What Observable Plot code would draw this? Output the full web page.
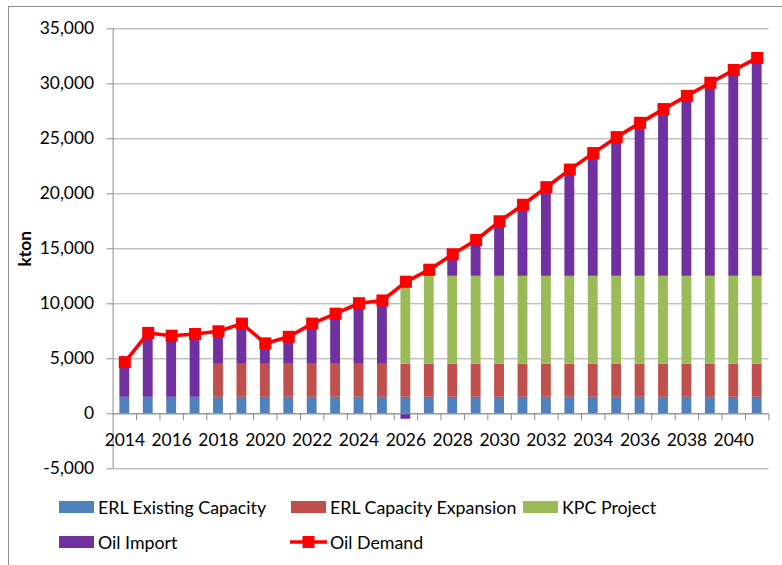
<!DOCTYPE html>
<html>
<head>
<meta charset="utf-8">
<script src="https://cdn.jsdelivr.net/npm/d3@7"></script>
<script src="https://cdn.jsdelivr.net/npm/@observablehq/plot@0.6"></script>
<style>
  html, body { margin: 0; padding: 0; background: #fff; }
  #wrap { position: relative; width: 782px; height: 565px; overflow: hidden; font-family: Lato, "Liberation Sans", sans-serif; }
  #frame { position: absolute; left: 8px; top: 6px; width: 900px; height: 700px; border: 1px solid #8f8f8f; pointer-events: none; }
  #legend { position: relative; height: 85px; }
  #legend .grid { position: absolute; left: 59px; top: 15px; display: grid; grid-template-columns: 232px 232px 232px; grid-auto-rows: 35px; }
  #legend .item { display: flex; align-items: center; height: 24px; font-size: 17.8px; color: #000; white-space: nowrap; }
  #legend .sw { width: 35px; height: 12px; margin-right: 4px; flex: none; }
  #legend svg.ls { margin-left: -1px; margin-right: 3px; flex: none; }
</style>
</head>
<body>
<div id="wrap">
  <div id="chart"></div>
  <div id="legend"><div class="grid"></div></div>
  <div id="frame"></div>
</div>
<script>
// ---- data ----
const years = [2014, 2015, 2016, 2017, 2018, 2019, 2020, 2021, 2022, 2023, 2024, 2025, 2026, 2027,
               2028, 2029, 2030, 2031, 2032, 2033, 2034, 2035, 2036, 2037, 2038, 2039, 2040, 2041];
const erlExisting  = [1500, 1500, 1500, 1500, 1500, 1500, 1500, 1500, 1500, 1500, 1500, 1500, 1500, 1500,
                      1500, 1500, 1500, 1500, 1500, 1500, 1500, 1500, 1500, 1500, 1500, 1500, 1500, 1500];
const erlExpansion = [0, 0, 0, 0, 3000, 3000, 3000, 3000, 3000, 3000, 3000, 3000, 3000, 3000,
                      3000, 3000, 3000, 3000, 3000, 3000, 3000, 3000, 3000, 3000, 3000, 3000, 3000, 3000];
const kpcProject   = [0, 0, 0, 0, 0, 0, 0, 0, 0, 0, 0, 0, 8000, 8000,
                      8000, 8000, 8000, 8000, 8000, 8000, 8000, 8000, 8000, 8000, 8000, 8000, 8000, 8000];
const oilImport    = [3200, 5850, 5600, 5750, 3000, 3700, 1900, 2500, 3700, 4600, 5550, 5800, -500, 600,
                      2000, 3300, 5000, 6500, 8100, 9700, 11200, 12650, 13950, 15200, 16400, 17600, 18750, 19850];
const oilDemand    = [4700, 7350, 7100, 7250, 7500, 8200, 6400, 7000, 8200, 9100, 10050, 10300, 12000, 13100,
                      14500, 15800, 17500, 19000, 20600, 22200, 23700, 25150, 26450, 27700, 28900, 30100, 31250, 32350];
const seriesNames  = ["ERL Existing Capacity", "ERL Capacity Expansion", "KPC Project", "Oil Import"];
const seriesColors = ["#4f81bd", "#c0504d", "#9bbb59", "#7030a0"];
const demandName   = "Oil Demand";
const demandColor  = "#ff0000";
const yTicks       = [-5000, 0, 5000, 10000, 15000, 20000, 25000, 30000, 35000];
const xLabelYears  = [2014, 2016, 2018, 2020, 2022, 2024, 2026, 2028, 2030, 2032, 2034, 2036, 2038, 2040];
const yLabel       = "kton";

// ---- derived tables ----
const seriesValues = [erlExisting, erlExpansion, kpcProject, oilImport];
const barData = [];
years.forEach((yr, i) => {
  seriesNames.forEach((s, j) => barData.push({year: yr, series: s, value: seriesValues[j][i]}));
});
const demandData = years.map((yr, i) => ({year: yr, value: oilDemand[i]}));
const boundaries = years.map(y => y + 0.5);

const W = 782, H = 480;
const mL = 112.6, mR = 13.6, mT = 28.3, mB = 11.7;
const barHalf = 0.21;
const fmt = d => d.toLocaleString("en-US");

const chart = Plot.plot({
  width: W, height: H,
  marginLeft: mL, marginRight: mR, marginTop: mT, marginBottom: mB,
  style: {fontFamily: "Lato, 'Liberation Sans', sans-serif", fontSize: "17.4px", color: "#000", background: "transparent", overflow: "visible"},
  x: {domain: [years[0] - 0.5, years[years.length - 1] + 0.5], axis: null},
  y: {domain: [yTicks[0], yTicks[yTicks.length - 1]], axis: null},
  color: {domain: seriesNames, range: seriesColors},
  marks: [
    Plot.gridY(yTicks, {stroke: "#a6a6a6", strokeOpacity: 1, strokeWidth: 1}),
    Plot.axisY(yTicks, {tickSize: 6, tickPadding: 13, tickFormat: fmt, stroke: "#8c8c8c", label: null, fontSize: 17.4}),
    Plot.ruleX([years[0] - 0.5], {stroke: "#8c8c8c"}),
    Plot.rectY(barData, Plot.stackY({
      x: "year",
      x1: d => d.year - barHalf,
      x2: d => d.year + barHalf,
      y: "value",
      fill: "series"
    })),
    Plot.ruleY([0], {stroke: "#8c8c8c"}),
    Plot.ruleX(boundaries, {x: d => d, y1: 0, y2: 0, insetBottom: -7, stroke: "#8c8c8c"}),
    Plot.text(xLabelYears, {x: d => d, y: 0, dy: 26.5, text: d => String(d), fontSize: 17.4, fill: "#000"}),
    Plot.text([yLabel], {frameAnchor: "left", textAnchor: "middle", dx: -87.6, rotate: -90, text: d => d, fontSize: 17.4, fontWeight: "bold", fill: "#000"}),
    Plot.line(demandData, {x: "year", y: "value", stroke: demandColor, strokeWidth: 3.6}),
    Plot.dot(demandData, {x: "year", y: "value", symbol: "square", r: 6.8, fill: demandColor, stroke: "none"})
  ]
});
document.getElementById("chart").appendChild(chart);

// ---- legend ----
const grid = document.querySelector("#legend .grid");
seriesNames.forEach((s, j) => {
  const it = document.createElement("div");
  it.className = "item";
  it.innerHTML = `<span class="sw" style="background:${seriesColors[j]}"></span><span>${s}</span>`;
  grid.appendChild(it);
});
const dem = document.createElement("div");
dem.className = "item";
dem.innerHTML = `<svg class="ls" width="37" height="14"><line x1="0" y1="7" x2="37" y2="7" stroke="${demandColor}" stroke-width="3.6"/><rect x="12.5" y="1" width="12" height="12" fill="${demandColor}"/></svg><span>${demandName}</span>`;
grid.appendChild(dem);
</script>
</body>
</html>
